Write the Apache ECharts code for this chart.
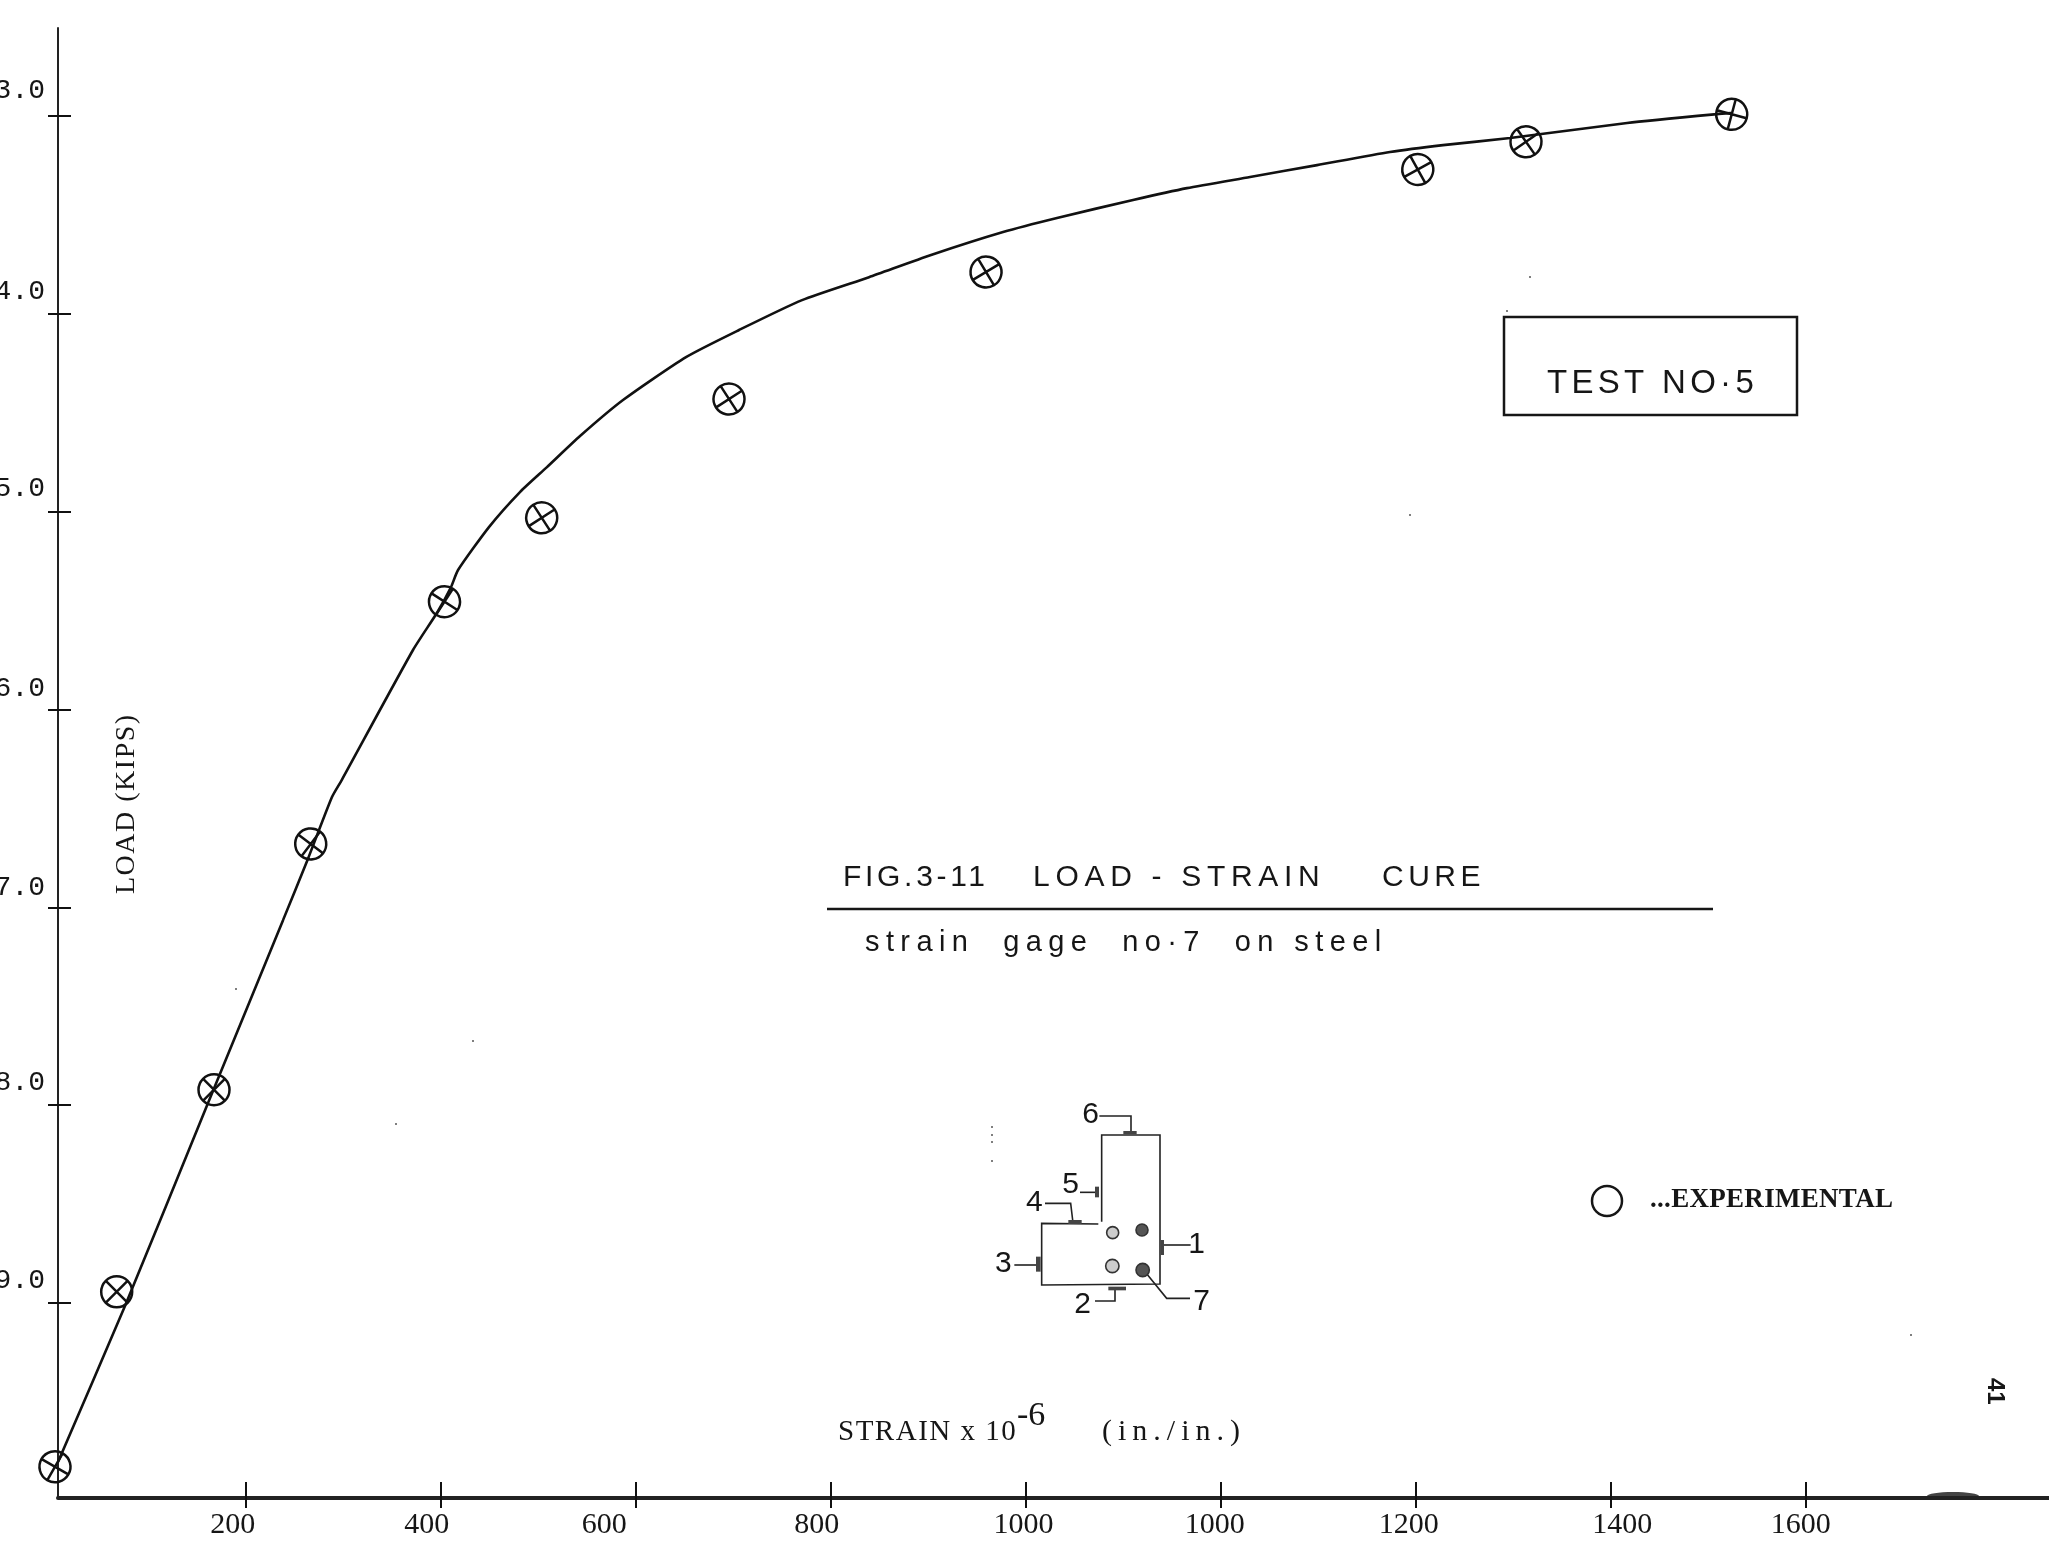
<!DOCTYPE html>
<html>
<head>
<meta charset="utf-8">
<style>html,body{margin:0;padding:0;background:#fff}#c{width:2049px;height:1542px}</style>
<script src="https://cdn.jsdelivr.net/npm/echarts@6/dist/echarts.min.js"></script>
</head>
<body>
<div id="c"></div>
<script>
// ---- data ----
const pointStrain = [4.6, 67.9, 167.7, 266.9, 404.1, 503.8, 695.9, 959.5, 1402.3, 1513.3, 1724.3];
const pointLoad   = [9.827, 8.943, 7.922, 6.680, 5.456, 5.032, 4.432, 3.790, 3.272, 3.132, 2.993];
const pointTurn   = [15, 0, 0, 8, 12, -12, -12, -14, -16, -10, 30];

const curveStrain = [7.7, 76.4, 160.2, 238.5, 263.9, 288.7, 298.7, 371.8, 396.9, 410.8, 418, 449.7, 481.5, 509.2, 543.1, 587.2, 651.8, 706.2, 770.8, 839.5, 903.1, 977, 1032.3, 1110.3, 1165.6, 1230.3, 1299, 1373.8, 1428.2, 1497, 1617, 1709.2, 1723.6];
const curveLoad   = [9.803, 9.015, 8.005, 7.065, 6.757, 6.443, 6.357, 5.700, 5.508, 5.382, 5.296, 5.079, 4.902, 4.776, 4.619, 4.437, 4.220, 4.083, 3.932, 3.816, 3.704, 3.588, 3.517, 3.426, 3.366, 3.310, 3.250, 3.184, 3.149, 3.113, 3.037, 2.992, 2.987];

const xTicks = [200, 400, 600, 800, 1000, 1200, 1400, 1600, 1800];
const xLabelAt = [187, 386, 568, 786, 998, 1194, 1393, 1612, 1795];
const xLabels = ['200', '400', '600', '800', '1000', '1000', '1200', '1400', '1600'];

const yTicks = [3, 4, 5, 6, 7, 8, 9];
const yLabelAt = [2.875, 3.890, 4.885, 5.896, 6.903, 7.887, 8.888];
const yLabels = ['3.0', '4.0', '5.0', '6.0', '7.0', '8.0', '9.0'];

// ---- page furniture ----
const MONO = '"Liberation Mono"';
const SERIF = '"Liberation Serif"';
const SANS = '"Liberation Sans"';
const INK = '#161616';

const notes = [
  {t: 'TEST NO\u00b75', x: 1547, y: 384, f: SANS, s: 33, g: 4.3},
  {t: 'FIG.3-11', x: 843, y: 878, f: SANS, s: 30, g: 3.7},
  {t: 'LOAD - STRAIN', x: 1033, y: 878, f: SANS, s: 30, g: 5.7},
  {t: 'CURE', x: 1382, y: 878, f: SANS, s: 30, g: 4.5},
  {t: 'strain  gage  no\u00b77  on steel', x: 865, y: 943, f: SANS, s: 29, g: 6.4},
  {t: '...EXPERIMENTAL', x: 1650, y: 1200, f: SERIF, s: 27, g: 0.3, w: 'bold'},
  {t: 'STRAIN x 10', x: 838, y: 1432, f: SERIF, s: 29, g: 1.5},
  {t: '-6', x: 1017, y: 1416, f: SERIF, s: 34, g: 0},
  {t: '(in./in.)', x: 1102, y: 1432, f: SERIF, s: 30, g: 6},
  {t: 'LOAD (KIPS)', x: 127, y: 894, f: SERIF, s: 28, g: 1.5, r: Math.PI / 2},
  {t: '41', x: 1995, y: 1378, f: SANS, s: 24, g: 0, w: 'bold', r: -Math.PI / 2}
];

const gageNumbers = [
  ['6', 422, 105], ['5', 362, 315], ['4', 253, 368], ['3', 160, 552],
  ['2', 398, 675], ['1', 740, 495], ['7', 755, 665]
];
const gageLines = [
  [[455,425],[455,165],[630,165],[630,612],[275,615],[275,430],[445,432]],
  [[448,108],[543,108],[543,155]],
  [[390,337],[437,337]],
  [[285,370],[362,370],[368,420]],
  [[193,555],[258,555]],
  [[435,663],[495,663],[495,630]],
  [[642,495],[722,495]],
  [[585,575],[650,655],[720,655]]
];
const gageTabs = [[520,153,40,10],[435,320,12,32],[355,420,40,12],[258,530,14,45],[475,620,53,11],[632,480,10,45]];
const gageHoles = [[488,458,18,0],[576,450,18,1],[487,558,20,0],[578,570,20,1]];
const specks = [[1530,277],[1410,515],[236,989],[473,1041],[396,1124],[1911,1335],[1507,311],[992,1127],[992,1135],[992,1142],[992,1161]];

// per-text letter spacing (canvas text has no option for it through the chart API)
const spacing = {};
notes.forEach(n => { spacing[n.t] = n.g; });
const rawFill = CanvasRenderingContext2D.prototype.fillText;
CanvasRenderingContext2D.prototype.fillText = function (s, x, y, m) {
  this.letterSpacing = (spacing[s] || 0) + 'px';
  rawFill.call(this, s, x, y, m);
  this.letterSpacing = '0px';
};

const gx = v => 950 + v / 3;
const gy = v => 1080 + v / 3;
const graphics = [];
notes.forEach(n => graphics.push({
  type: 'text', x: n.x, y: n.y, rotation: n.r || 0, silent: true,
  style: {text: n.t, fill: INK, align: 'left', verticalAlign: 'middle',
    font: (n.w || 'normal') + ' ' + n.s + 'px ' + n.f}
}));
// box around TEST NO.5, rule under the title
graphics.push({type: 'rect', silent: true, shape: {x: 1504, y: 317, width: 293, height: 98},
  style: {fill: 'none', stroke: INK, lineWidth: 2.5}});
graphics.push({type: 'line', silent: true, shape: {x1: 827, y1: 909, x2: 1713, y2: 909},
  style: {stroke: INK, lineWidth: 2.5}});
// legend ring
graphics.push({type: 'circle', silent: true, shape: {cx: 1607, cy: 1201, r: 15},
  style: {fill: 'none', stroke: INK, lineWidth: 2.5}});
// gage sketch
gageLines.forEach(l => graphics.push({type: 'polyline', silent: true,
  shape: {points: l.map(p => [gx(p[0]), gy(p[1])])},
  style: {fill: 'none', stroke: '#222', lineWidth: 1.6}}));
gageTabs.forEach(r => graphics.push({type: 'rect', silent: true,
  shape: {x: gx(r[0]), y: gy(r[1]), width: r[2] / 3, height: r[3] / 3},
  style: {fill: '#444'}}));
gageHoles.forEach(h => graphics.push({type: 'circle', silent: true,
  shape: {cx: gx(h[0]), cy: gy(h[1]), r: h[2] / 3},
  style: {fill: h[3] ? '#555' : '#ccc', stroke: '#333', lineWidth: 1.6}}));
gageNumbers.forEach(n => graphics.push({type: 'text', silent: true, x: gx(n[1]), y: gy(n[2]),
  style: {text: n[0], fill: INK, align: 'center', verticalAlign: 'middle', font: '30px ' + SANS}}));
// scan blemishes
specks.forEach(s => graphics.push({type: 'circle', silent: true, shape: {cx: s[0], cy: s[1], r: 1},
  style: {fill: '#555'}}));
graphics.push({type: 'ellipse', silent: true, shape: {cx: 1953, cy: 1496, rx: 26, ry: 4}, style: {fill: '#444'}});

const X_MIN = 7.7, X_MAX = 2049.7, Y_MIN = 2.557, Y_MAX = 9.985;
const ring = 'path://M0 50A50 50 0 1 1 100 50A50 50 0 1 1 0 50ZM15 15L85 85M15 85L85 15';

const chart = echarts.init(document.getElementById('c'), null, {renderer: 'canvas'});
chart.setOption({
  animation: false,
  backgroundColor: '#fff',
  grid: {left: 58, right: 0, top: 28, height: 1470, containLabel: false, outerBoundsMode: 'none'},
  xAxis: [
    {type: 'value', position: 'bottom', min: X_MIN, max: X_MAX, splitLine: {show: false},
      axisLine: {show: true, onZero: false, lineStyle: {color: '#222', width: 4}},
      axisTick: {show: true, length: 10, customValues: xTicks, lineStyle: {color: '#111', width: 2}},
      axisLabel: {show: true, customValues: xLabelAt, margin: 12, color: INK, fontFamily: SERIF, fontSize: 30,
        formatter: v => xLabels[xLabelAt.indexOf(v)] || ''}},
    {type: 'value', position: 'bottom', min: X_MIN, max: X_MAX, splitLine: {show: false},
      axisLine: {show: false},
      axisTick: {show: true, inside: true, length: 16, customValues: xTicks, lineStyle: {color: '#111', width: 2}},
      axisLabel: {show: false}}
  ],
  yAxis: [
    {type: 'value', position: 'left', inverse: true, min: Y_MIN, max: Y_MAX, splitLine: {show: false},
      axisLine: {show: true, onZero: false, lineStyle: {color: '#222', width: 2}},
      axisTick: {show: true, length: 10, customValues: yTicks, lineStyle: {color: '#111', width: 2}},
      axisLabel: {show: true, customValues: yLabelAt, margin: 13, color: INK, fontFamily: MONO, fontSize: 28,
        formatter: v => yLabels[yLabelAt.indexOf(v)] || ''}},
    {type: 'value', position: 'left', inverse: true, min: Y_MIN, max: Y_MAX, splitLine: {show: false},
      axisLine: {show: false},
      axisTick: {show: true, inside: true, length: 13, customValues: yTicks, lineStyle: {color: '#111', width: 2}},
      axisLabel: {show: false}}
  ],
  graphic: graphics,
  series: [
    {type: 'line', name: 'Load-strain curve', clip: false, symbol: 'none', smooth: 0.2,
      lineStyle: {color: '#111', width: 2.6},
      data: curveStrain.map((x, i) => [x, curveLoad[i]])},
    {type: 'scatter', name: 'Experimental', clip: false, symbol: ring, symbolSize: 31,
      itemStyle: {color: 'rgba(0,0,0,0)', borderColor: '#111', borderWidth: 2.5, opacity: 1},
      data: pointStrain.map((x, i) => ({value: [x, pointLoad[i]], symbolRotate: pointTurn[i]}))}
  ]
});
</script>
</body>
</html>
